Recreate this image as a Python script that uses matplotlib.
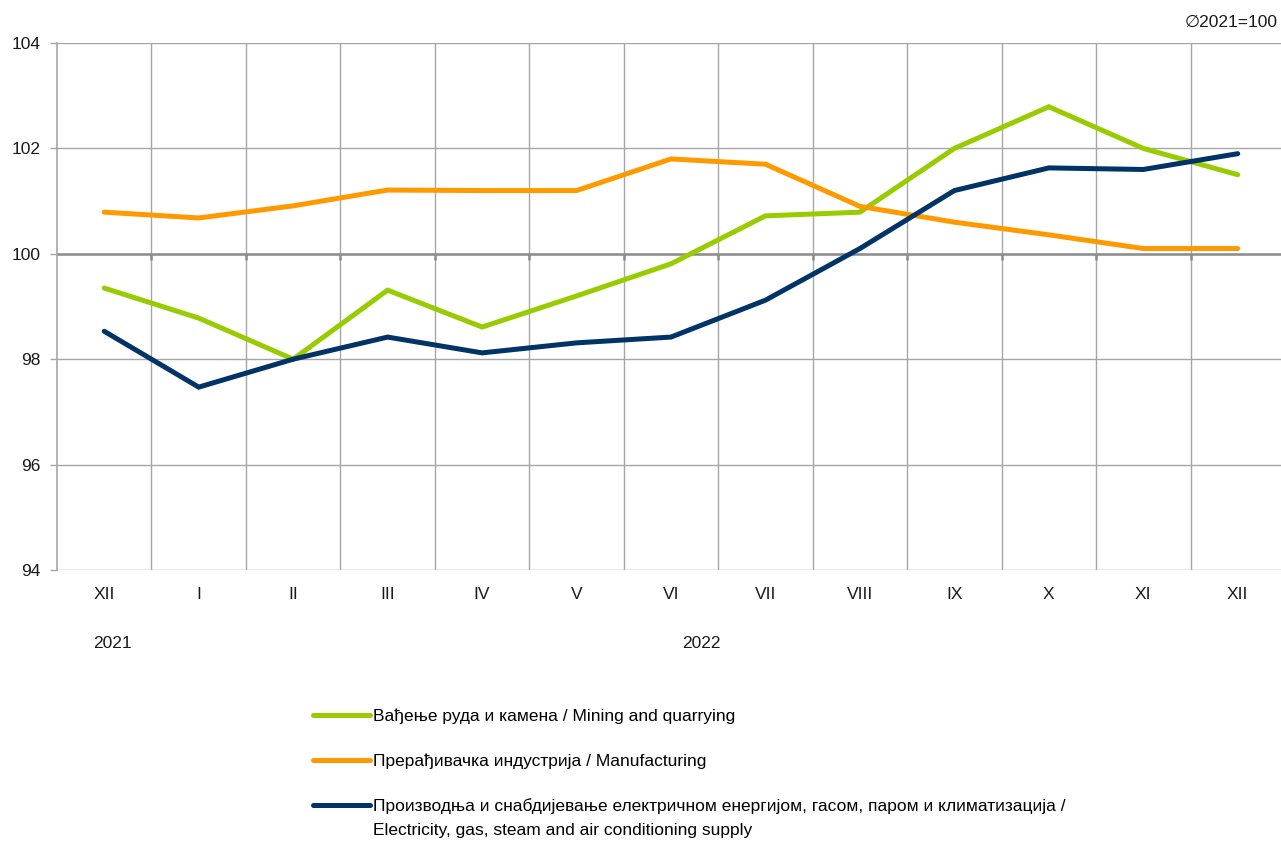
import matplotlib
matplotlib.use("Agg")
import matplotlib.pyplot as plt
from matplotlib.lines import Line2D

plt.rcParams['font.family'] = ['Liberation Sans', 'DejaVu Sans']

months = ["XII", "I", "II", "III", "IV", "V", "VI", "VII", "VIII", "IX", "X", "XI", "XII"]
mining = [99.35, 98.78, 98.0, 99.31, 98.61, 99.2, 99.81, 100.72, 100.79, 102.0, 102.79, 102.0, 101.5]
manufacturing = [100.79, 100.68, 100.91, 101.21, 101.2, 101.2, 101.8, 101.7, 100.9, 100.6, 100.36, 100.1, 100.1]
electricity = [98.53, 97.47, 98.0, 98.42, 98.12, 98.31, 98.42, 99.12, 100.1, 101.2, 101.63, 101.6, 101.9]
yticks = [94, 96, 98, 100, 102, 104]

labels = ["Вађење руда и камена / Mining and quarrying",
          "Прерађивачка индустрија / Manufacturing",
          "Производња и снабдијевање електричном енергијом, гасом, паром и климатизација /"]
label3_line2 = "Electricity, gas, steam and air conditioning supply"
colors = ["#99CC00", "#FF9900", "#003366"]

FS = 12.5
TXT = "#1a1a1a"

fig = plt.figure(figsize=(12.81, 8.41), dpi=100)
ax = fig.add_axes([57/1281, 1 - 570/841, (1285 - 57)/1281, (570 - 43)/841])

x = list(range(len(months)))
grid_c = "#A6A6A6"
ax.set_xlim(-0.5, len(months) - 0.5)
ax.set_ylim(94, 104)

ax.set_yticks(yticks)
ax.set_yticklabels([str(v) for v in yticks], fontsize=FS, color=TXT)
ax.set_xticks([i + 0.5 for i in range(len(months) - 1)], minor=True)
ax.set_xticks(x)
ax.set_xticklabels(months, fontsize=FS, color=TXT)
ax.tick_params(axis='x', which='both', length=0, pad=12)
ax.tick_params(axis='y', length=5, color=grid_c, pad=7, width=1)
ax.grid(axis='y', color=grid_c, lw=1)
ax.grid(axis='x', which='minor', color=grid_c, lw=1)
ax.set_axisbelow(True)
for s in ["top", "right", "bottom"]:
    ax.spines[s].set_visible(False)
ax.spines["left"].set_color(grid_c)
ax.spines["left"].set_linewidth(1.2)

# category axis crossing at 100
ax.axhline(100, color="#8C8C8C", lw=1.8, zorder=1.5)
ax.vlines([i + 0.5 for i in range(len(months) - 1)], 99.88, 100, color="#8C8C8C", lw=1.8, zorder=1.5)

for series, c in zip([mining, manufacturing, electricity], colors):
    ax.plot(x, series, color=c, lw=3.6, solid_capstyle='round', solid_joinstyle='miter', zorder=3)

fig.text(112/1281, 1 - 643/841, "2021", ha='center', va='center', fontsize=FS, color=TXT)
fig.text(701/1281, 1 - 643/841, "2022", ha='center', va='center', fontsize=FS, color=TXT)
fig.text(1278/1281, 1 - 22/841, "∅2021=100", ha='right', va='center', fontsize=FS, color=TXT)

handles = [Line2D([], [], color=c, lw=3.6, solid_capstyle='round') for c in colors]
leg = fig.legend(handles, labels, loc='upper left', bbox_to_anchor=(313/1281, 1 - 709/841),
                 frameon=False, fontsize=FS, handlelength=3.3, handletextpad=0.15,
                 labelspacing=1.67, borderpad=0, borderaxespad=0)
fig.text(373/1281, 1 - 830/841, label3_line2, ha='left', va='center', fontsize=FS, color="black")

fig.savefig("out.png", dpi=100)
